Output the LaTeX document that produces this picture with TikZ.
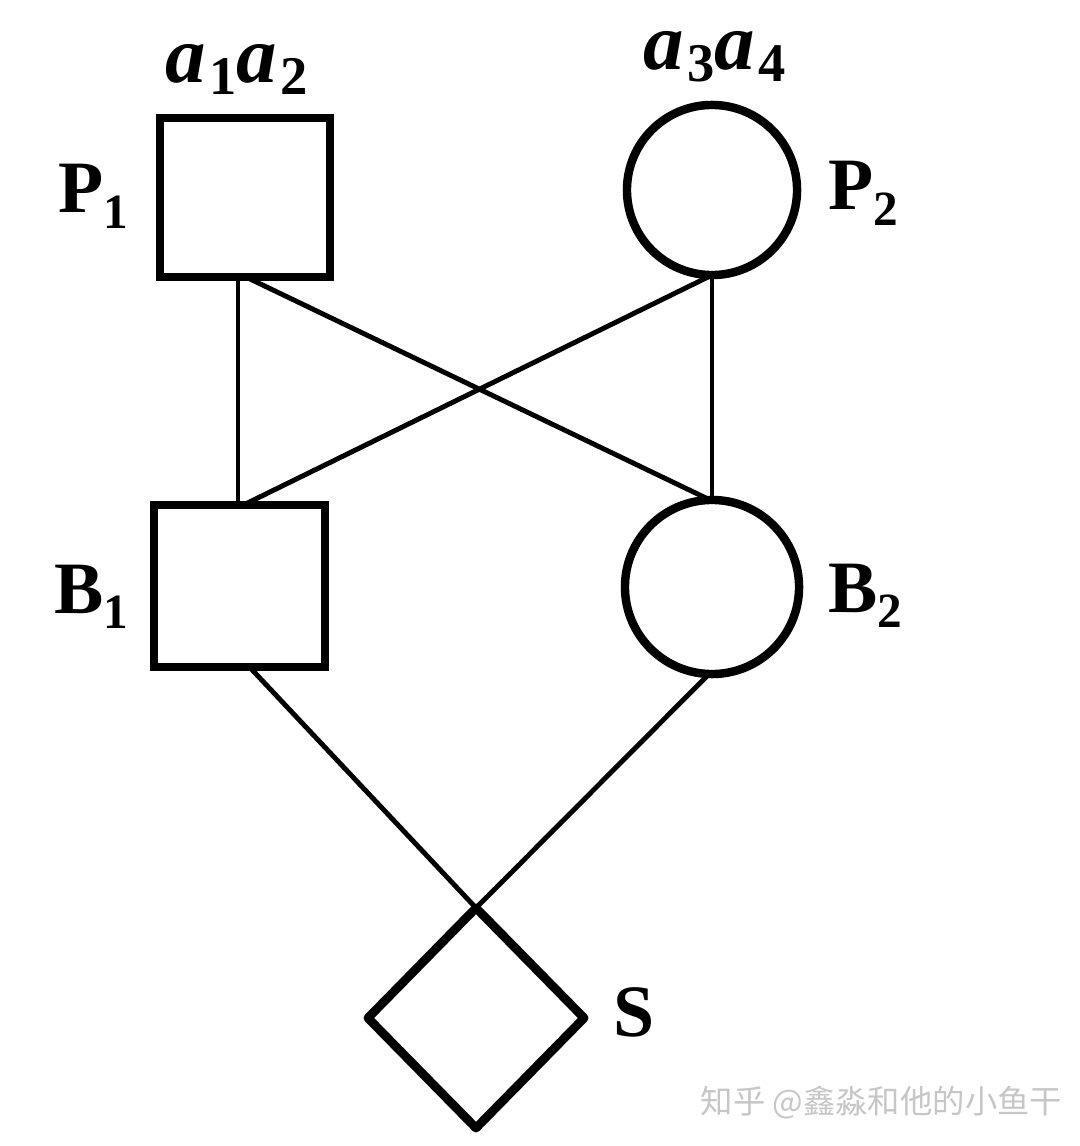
\documentclass[tikz,border=0pt]{standalone}
\usepackage{fontspec}
\setmainfont{Liberation Serif}
\newfontfamily\cjk{Noto Sans CJK SC}
\usetikzlibrary{shapes.geometric,calc}
\newcommand{\subdigit}[2]{\raisebox{-#2}{\fontsize{14}{14}\selectfont\bfseries #1}}
\newcommand{\subdigitA}[2]{\raisebox{-#2}{\fontsize{15.5}{15.5}\selectfont\bfseries #1}}
\begin{document}
\begin{tikzpicture}[x=0.01cm,y=-0.01cm,
  box/.style={draw,line width=2.5pt,rectangle,inner sep=0pt,outer sep=0pt},
  ring/.style={draw,line width=2.4pt,circle,inner sep=0pt,outer sep=0pt},
  rhomb/.style={draw,line width=2.5pt,diamond,inner sep=0pt,outer sep=0pt,line join=round},
  link/.style={line width=1.4pt},
  lbl/.style={anchor=base west,inner sep=0pt,font=\fontsize{21}{25}\selectfont\bfseries},
  albl/.style={anchor=base west,inner sep=0pt,font=\fontsize{23}{27}\selectfont\bfseries},
  wmark/.style={anchor=base west,inner sep=0pt,text=gray!45,font=\cjk\fontsize{9.2}{11}\selectfont}]
\useasboundingbox (0,0) rectangle (1080,1146);
% shapes
\node[box,minimum width=1.70cm,minimum height=1.59cm] (P1) at (245,197.5) {};
\node[ring,minimum size=1.70cm] (P2) at (712,190) {};
\node[box,minimum width=1.71cm,minimum height=1.62cm] (B1) at (239.5,586) {};
\node[ring,minimum size=1.74cm] (B2) at (712,587) {};
\node[rhomb,minimum width=2.16cm,minimum height=2.20cm] (S) at (476,1018) {};
% labels
\node[albl] (la12) at (165,83) {\textit{a}\kern1pt\subdigitA{1}{0.12cm}\textit{a}\kern1pt\subdigitA{2}{0.12cm}};
\node[albl] (la34) at (643,70) {\textit{a}\kern1pt\subdigitA{3}{0.12cm}\textit{a}\kern1pt\subdigitA{4}{0.12cm}};
\node[lbl] (lP1) at (58,213) {P\subdigit{1}{0.15cm}};
\node[lbl] (lP2) at (828,210) {P\subdigit{2}{0.15cm}};
\node[lbl] (lB1) at (54,613) {B\subdigit{1}{0.15cm}};
\node[lbl] (lB2) at (828,612) {B\subdigit{2}{0.15cm}};
\node[lbl] (lS) at (613,1036) {S};
% connectors
\draw[link] ($(P1.south)+(-7,0)$) -- ($(B1.north)+(-1.5,0)$);
\draw[link] ($(P1.south)+(1,0)$) -- ($(B2.north)+(-2,0)$);
\draw[link] (P2.south) -- ($(B1.north)+(4,0)$);
\draw[link] (P2.south) -- (B2.north);
\draw[link] ($(B1.south)+(10,0)$) -- (S.north);
\draw[link] ($(B2.south)+(-3,0)$) -- (S.north);
% watermark
\node[wmark] (wm) at (700,1113) {知乎 @鑫淼和他的小鱼干};
\end{tikzpicture}
\end{document}
